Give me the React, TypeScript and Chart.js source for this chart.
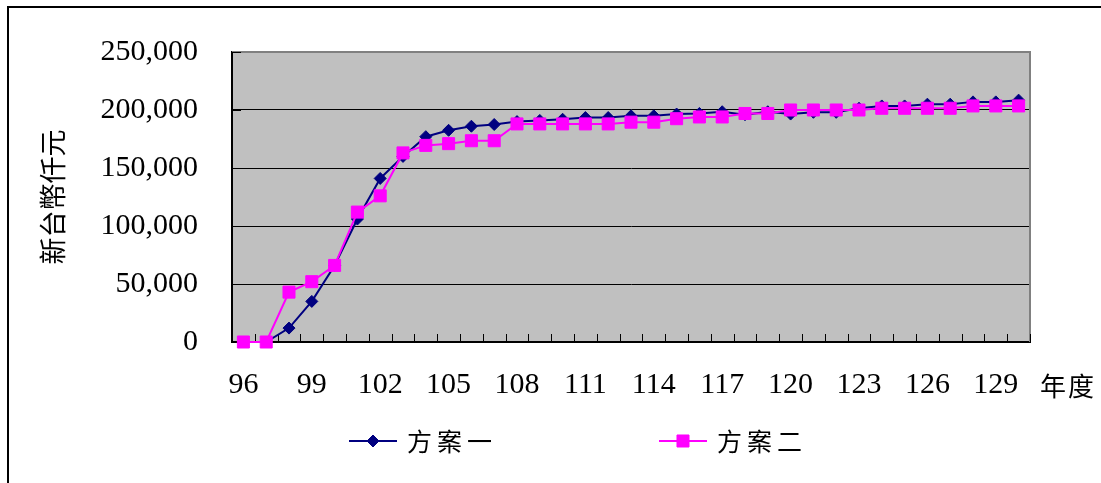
import { useEffect, useRef } from "react";
import { Chart, registerables } from "chart.js";

Chart.register(...registerables);

// Fiscal years (民國年) on the category axis
const years: string[] = [
  "96", "97", "98", "99", "100", "101", "102", "103", "104", "105", "106", "107",
  "108", "109", "110", "111", "112", "113", "114", "115", "116", "117", "118", "119",
  "120", "121", "122", "123", "124", "125", "126", "127", "128", "129", "130",
];

// 方案一 (thousand NTD)
const plan1: number[] = [
  0, 0, 12000, 35000, 66000, 106000, 141000, 160000, 177000, 182500, 186000, 187500,
  190000, 191000, 192000, 193500, 193500, 195000, 195000, 196500, 197000, 198500, 196000, 198500,
  196500, 198000, 198000, 201500, 203500, 203500, 205000, 205000, 207000, 207000, 208500,
];

// 方案二 (thousand NTD)
const plan2: number[] = [
  0, 0, 43000, 52000, 66000, 112000, 126000, 163000, 169500, 171000, 173500, 173500,
  188000, 188000, 188000, 188000, 188000, 189500, 189500, 192500, 194000, 194000, 197000, 197000,
  200000, 200000, 200000, 200000, 201500, 201500, 201500, 201500, 203500, 203500, 203500,
];

const yTicks: number[] = [0, 50000, 100000, 150000, 200000, 250000];
const seriesNames: string[] = ["方案一", "方案二"];
const yTitle = "新台幣仟元";
const xUnit = "年度";

const NAVY = "#000080";
const MAGENTA = "#FF00FF";
const PLOT_BG = "#C0C0C0";
const PLOT_EDGE = "#808080";
const SERIF = "'Liberation Serif', 'Times New Roman', serif";
const CJK = "'Noto Sans CJK TC', 'Noto Sans CJK SC', sans-serif";

const W = 1101;
const H = 483;

// Gray plot background, gray top/right edge and short inward tick marks
const plotFrame = {
  id: "plotFrame",
  beforeDraw(chart: any) {
    const { ctx, chartArea: a } = chart;
    ctx.save();
    ctx.fillStyle = PLOT_BG;
    ctx.fillRect(a.left, a.top, a.right - a.left, a.bottom - a.top);
    ctx.restore();
  },
  beforeDatasetsDraw(chart: any) {
    const { ctx, chartArea: a, scales } = chart;
    ctx.save();
    ctx.strokeStyle = PLOT_EDGE;
    ctx.lineWidth = 2;
    ctx.beginPath();
    ctx.moveTo(a.left, a.top);
    ctx.lineTo(a.right, a.top);
    ctx.lineTo(a.right, a.bottom);
    ctx.stroke();

    ctx.strokeStyle = "#000";
    ctx.lineWidth = 1;
    const ys = scales.y;
    for (const v of yTicks) {
      const py = Math.round(ys.getPixelForValue(v)) + 0.5;
      ctx.beginPath();
      ctx.moveTo(a.left, py);
      ctx.lineTo(a.left + 9, py);
      ctx.stroke();
    }
    const xs = scales.x;
    const step = xs.getPixelForValue(1) - xs.getPixelForValue(0);
    for (let i = 0; i <= years.length; i++) {
      const px = Math.round(xs.getPixelForValue(i) - step / 2) + 0.5;
      ctx.beginPath();
      ctx.moveTo(px, a.bottom);
      ctx.lineTo(px, a.bottom - 8);
      ctx.stroke();
    }
    ctx.restore();
  },
};

function drawMarker(ctx: CanvasRenderingContext2D, style: string, r: number, x: number, y: number, color: string) {
  ctx.save();
  ctx.fillStyle = color;
  ctx.strokeStyle = color;
  ctx.lineWidth = 1;
  ctx.beginPath();
  if (style === "rectRot") {
    ctx.moveTo(x - r, y);
    ctx.lineTo(x, y - r);
    ctx.lineTo(x + r, y);
    ctx.lineTo(x, y + r);
    ctx.closePath();
  } else {
    const s = Math.SQRT1_2 * r;
    ctx.rect(x - s, y - s, 2 * s, 2 * s);
  }
  ctx.fill();
  ctx.stroke();
  ctx.restore();
}

// Unit label after the last year and the line+marker legend below the axis
const annotations = {
  id: "annotations",
  afterDraw(chart: any) {
    const { ctx, chartArea: a } = chart;
    ctx.save();
    ctx.fillStyle = "#000";
    ctx.textBaseline = "middle";
    ctx.font = `26px ${CJK}`;
    (ctx as any).letterSpacing = "2px";
    ctx.fillText(xUnit, a.right + 10, 386);

    const legendY = 441;
    const items = [
      { x: 349, color: NAVY, style: "rectRot", radius: 6 },
      { x: 659, color: MAGENTA, style: "rect", radius: 8.5 },
    ];
    items.forEach((it, i) => {
      ctx.strokeStyle = it.color;
      ctx.lineWidth = 2;
      ctx.beginPath();
      ctx.moveTo(it.x, legendY);
      ctx.lineTo(it.x + 48, legendY);
      ctx.stroke();
      drawMarker(ctx, it.style, it.radius, it.x + 24, legendY, it.color);
      ctx.fillStyle = "#000";
      ctx.font = `25px ${CJK}`;
      (ctx as any).letterSpacing = "5px";
      ctx.fillText(seriesNames[i], it.x + 58, legendY);
    });
    ctx.restore();
  },
};

export default function App() {
  const canvasRef = useRef<HTMLCanvasElement | null>(null);

  useEffect(() => {
    const canvas = canvasRef.current;
    if (!canvas) return;
    const chart = new Chart(canvas, {
      type: "line",
      data: {
        labels: years,
        datasets: [
          {
            label: seriesNames[0],
            data: plan1,
            borderColor: NAVY,
            backgroundColor: NAVY,
            borderWidth: 2,
            pointStyle: "rectRot",
            pointRadius: 6,
            pointBorderWidth: 1,
            tension: 0,
            clip: false,
            order: 1,
          },
          {
            label: seriesNames[1],
            data: plan2,
            borderColor: MAGENTA,
            backgroundColor: MAGENTA,
            borderWidth: 2,
            pointStyle: "rect",
            pointRadius: 8.5,
            pointBorderWidth: 1,
            tension: 0,
            clip: false,
            order: 0,
          },
        ],
      },
      options: {
        animation: false,
        responsive: false,
        devicePixelRatio: 1,
        layout: { padding: { top: 50, right: 71, left: 0, bottom: 0 } },
        plugins: {
          legend: { display: false },
          tooltip: { enabled: false },
        },
        scales: {
          x: {
            type: "category",
            offset: true,
            grid: { drawOnChartArea: false, drawTicks: false },
            border: { color: "#000", width: 2 },
            ticks: {
              autoSkip: false,
              maxRotation: 0,
              minRotation: 0,
              padding: 25,
              color: "#000",
              font: { family: SERIF, size: 30 },
              callback: (_v: any, i: number) => (i % 3 === 0 ? years[i] : ""),
            },
            afterFit: (s: any) => {
              s.height = 141;
            },
          },
          y: {
            min: 0,
            max: 250000,
            afterBuildTicks: (s: any) => {
              s.ticks = yTicks.map((v) => ({ value: v }));
            },
            grid: {
              drawTicks: false,
              lineWidth: 1,
              color: (c: any) => (c.tick && c.tick.value === 250000 ? "rgba(0,0,0,0)" : "#000"),
            },
            border: { color: "#000", width: 2 },
            ticks: {
              padding: 34,
              color: "#000",
              font: { family: SERIF, size: 30 },
              callback: (v: any) => Number(v).toLocaleString("en-US"),
            },
            title: {
              display: true,
              text: yTitle,
              color: "#000",
              font: { family: CJK, size: 27 },
              padding: { top: 37, bottom: 0 },
            },
            afterFit: (s: any) => {
              s.width = 232;
            },
          },
        },
      },
      plugins: [plotFrame, annotations],
    });
    return () => chart.destroy();
  }, []);

  return (
    <div>
      <div
        style={{
          position: "absolute",
          left: 7,
          top: 6,
          width: W - 7,
          height: H - 6,
          boxSizing: "border-box",
          borderLeft: "2px solid #000",
          borderTop: "2px solid #000",
        }}
      />
      <canvas
        ref={canvasRef}
        width={W}
        height={H}
        style={{ position: "absolute", left: 0, top: 0, width: W, height: H }}
      />
    </div>
  );
}
